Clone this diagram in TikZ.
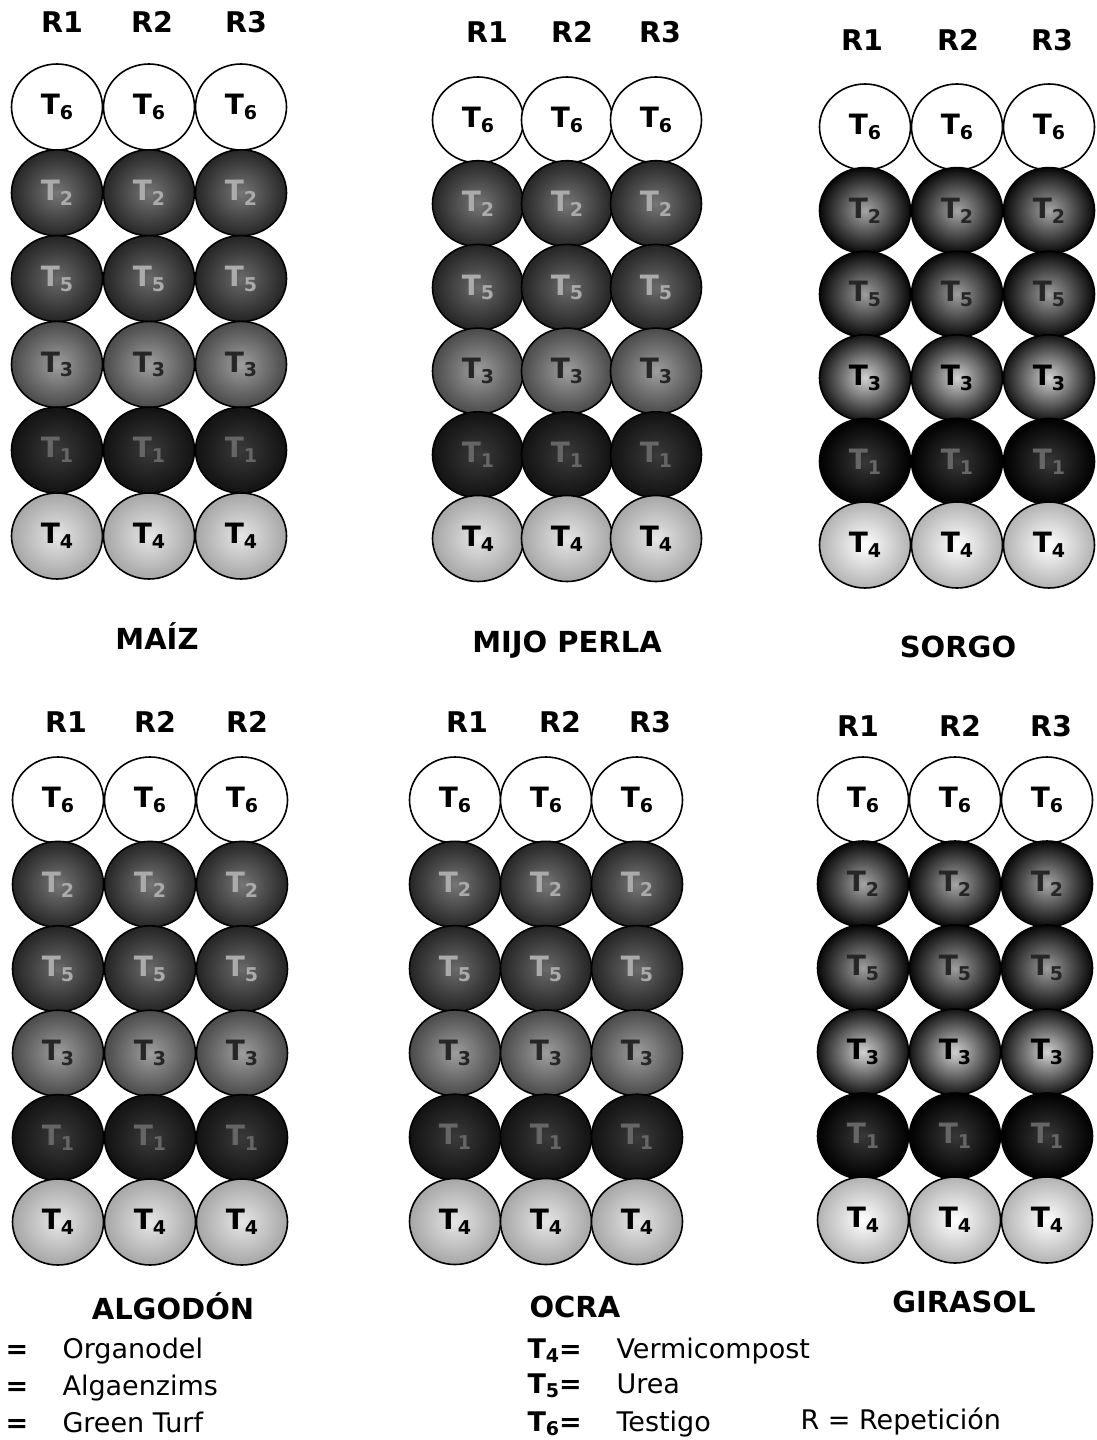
\documentclass[tikz,border=0pt]{standalone}
\usepackage{fontspec}
\setmainfont{DejaVu Sans}
\usetikzlibrary{shapes.geometric}
\newcommand\Tlab[1]{T\raisebox{-0.32ex}{\fontsize{19}{19}\selectfont #1}}
\definecolor{ctwoi}{HTML}{767676}\definecolor{ctwoo}{HTML}{262626}
\definecolor{cfivei}{HTML}{6A6A6A}\definecolor{cfiveo}{HTML}{242424}
\definecolor{cthreei}{HTML}{9E9E9E}\definecolor{cthreeo}{HTML}{4A4A4A}
\definecolor{conei}{HTML}{3A3A3A}\definecolor{coneo}{HTML}{121212}
\definecolor{cfouri}{HTML}{E6E6E6}\definecolor{cfouro}{HTML}{A6A6A6}
\definecolor{txtlight}{HTML}{ABABAB}\definecolor{txtmid}{HTML}{666666}
\tikzset{
  plot/.style={ellipse, draw=black, line width=1.6pt, minimum width=91pt,
    minimum height=86pt, inner sep=0pt, font=\bfseries\fontsize{28}{28}\selectfont},
  t6a/.style={plot, fill=white}, t6b/.style={plot, fill=white},
  t2a/.style={plot, shading=radial, inner color=ctwoi, outer color=ctwoo, text=txtlight},
  t5a/.style={plot, shading=radial, inner color=cfivei, outer color=cfiveo, text=txtlight},
  t3a/.style={plot, shading=radial, inner color=cthreei, outer color=cthreeo, text=black!85},
  t1a/.style={plot, shading=radial, inner color=conei, outer color=coneo, text=txtmid},
  t4a/.style={plot, shading=radial, inner color=cfouri, outer color=cfouro, text=black},
  t2b/.style={plot, shading=radial, inner color=black!35, outer color=black!97, text=black!85},
  t5b/.style={plot, shading=radial, inner color=black!38, outer color=black!97, text=black!85},
  t3b/.style={plot, shading=radial, inner color=black!18, outer color=black!92, text=black},
  t1b/.style={plot, shading=radial, inner color=black!78, outer color=black, text=txtmid},
  t4b/.style={plot, shading=radial, inner color=white, outer color=black!30, text=black},
  rlab/.style={font=\bfseries\fontsize{28.5}{28.5}\selectfont, anchor=base},
  ttl/.style={font=\bfseries\fontsize{29}{29}\selectfont, anchor=base},
  leg/.style={font=\fontsize{27}{27}\selectfont, anchor=base west},
  legb/.style={font=\bfseries\fontsize{27}{27}\selectfont, anchor=base west},
}
% #1 id, #2 #3 #4 column x, #5 first row y, #6 row step, #7 variant
\newcommand\plotpanel[7]{%
  \foreach \k/\ty/\lab [count=\r] in {0/t6/6,1/t2/2,2/t5/5,3/t3/3,4/t1/1,5/t4/4}{
    \foreach \xx [count=\c] in {#2,#3,#4}{
      \node[\ty#7] (#1r\r c\c) at (\xx, #5+\k*#6) {\Tlab{\lab}};
    }
  }%
}
\begin{document}
\begin{tikzpicture}[x=1pt, y=-1pt]
\useasboundingbox[fill=white] (0,0) rectangle (1097,1440);

% R labels
\node[rlab] (h1a) at (62,32) {R1};  \node[rlab] (h1b) at (152,32) {R2};  \node[rlab] (h1c) at (246,32) {R3};
\node[rlab] (h2a) at (487,42) {R1}; \node[rlab] (h2b) at (572,42) {R2}; \node[rlab] (h2c) at (660,42) {R3};
\node[rlab] (h3a) at (862,50) {R1}; \node[rlab] (h3b) at (958,50) {R2}; \node[rlab] (h3c) at (1052,50) {R3};
\node[rlab] (h4a) at (66,732) {R1};  \node[rlab] (h4b) at (155,732) {R2};  \node[rlab] (h4c) at (247,732) {R2};
\node[rlab] (h5a) at (467,732) {R1}; \node[rlab] (h5b) at (560,732) {R2}; \node[rlab] (h5c) at (650,732) {R3};
\node[rlab] (h6a) at (858,736) {R1}; \node[rlab] (h6b) at (960,736) {R2}; \node[rlab] (h6c) at (1051,736) {R3};

% panels
\plotpanel{p1}{57}{149}{241}{107}{85.8}{a}
\plotpanel{p2}{478}{567}{656}{120}{83.7}{a}
\plotpanel{p3}{865}{957}{1049}{127}{83.6}{b}
\plotpanel{p4}{58}{150}{242}{800}{84.4}{a}
\plotpanel{p5}{455}{546}{637}{800}{84.3}{a}
\plotpanel{p6}{863}{955}{1047}{800}{84}{b}

% titles
\node[ttl] (tmaiz) at (157,649) {MAÍZ};
\node[ttl] (tmijo) at (567,652) {MIJO PERLA};
\node[ttl] (tsorgo) at (958,657) {SORGO};
\node[ttl] (talgo) at (173,1319) {ALGODÓN};
\node[ttl, anchor=base west] (tocra) at (526,1317) {OCRA};
\node[ttl] (tgira) at (964,1312) {GIRASOL};

% legend left
\node[legb] (e1) at (2,1358) {=};
\node[legb] (e2) at (2,1395) {=};
\node[legb] (e3) at (2,1432) {=};
\node[leg] (l1) at (59,1358) {Organodel};
\node[leg] (l2) at (59,1395) {Algaenzims};
\node[leg] (l3) at (59,1432) {Green Turf};

% legend right
\node[legb] (k4) at (524,1358) {\Tlab{4}=};
\node[legb] (k5) at (524,1393) {\Tlab{5}=};
\node[legb] (k6) at (524,1431) {\Tlab{6}=};
\node[leg] (v4) at (613,1358) {Vermicompost};
\node[leg] (v5) at (613,1393) {Urea};
\node[leg] (v6) at (613,1431) {Testigo};
\node[leg] (rr) at (797,1429) {R = Repetición};
\end{tikzpicture}
\end{document}
